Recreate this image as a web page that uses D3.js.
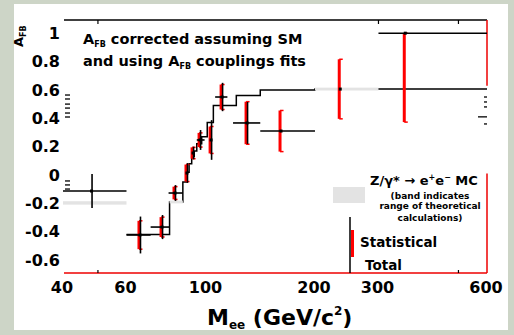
<!DOCTYPE html>
<html>
<head>
<meta charset="utf-8">
<script src="https://cdn.jsdelivr.net/npm/d3@7"></script>
<style>
  html, body { margin: 0; padding: 0; background: #cdd5c7; }
  svg { display: block; }
  text { font-family: 'DejaVu Sans', sans-serif; font-weight: bold; fill: #000; }
</style>
</head>
<body>
<svg id="chart" width="514" height="335"></svg>
<script>
// measured A_FB points (mass bins in GeV/c^2)
const binLo   = [40, 60, 70, 78.5, null, null, 94, null, 105.7, 118.5, 141, null, 300];
const binHi   = [60, 70, 79, 86, null, null, 98.8, null, 114.3, 141, 200, null, 600];
const massPt  = [48, 65.4, 75.3, 81.8, 88.3, 91.8, 96, 103, 110.5, 129.6, 161, 235, 356];
const afb     = [-0.113, -0.423, -0.367, -0.127, 0.014, 0.155, 0.247, 0.247, 0.55, 0.367, 0.31, 0.606, 1.0];
const errTot  = [0.12, 0.13, 0.085, 0.056, 0.07, 0.045, 0.07, 0.14, 0.1, 0.148, null, null, null];
const errStatDn = [null, 0.10, 0.07, 0.045, 0.06, 0.04, 0.05, 0.095, 0.088, 0.15, 0.145, 0.21, 0.627];
const errStatUp = [null, 0.10, 0.07, 0.045, 0.06, 0.04, 0.05, 0.095, 0.088, 0.15, 0.145, 0.21, 0];

// Z/gamma* -> ee MC histogram
const mcEdges = [60, 70, 79, 86, 88, 89.5, 91, 92.5, 94, 97, 100.5, 104.5, 121, 141, 200, 300, 600];
const mcVals  = [-0.42, -0.42, -0.19, -0.05, 0.02, 0.08, 0.13, 0.17, 0.22, 0.27, 0.37, 0.49, 0.56, 0.60, 0.606, 0.606];

// theory band
const bandLo   = [40, 79, 200];
const bandHi   = [60, 86, 300];
const bandVal  = [-0.197, -0.19, 0.606];
const bandHalf = [0.012, 0.01, 0.01];

// small marks along the sides
const leftMarks  = [0.564, 0.536, 0.5, 0.472, 0.437, 0.409, -0.042, -0.07, -0.099];
const rightMarks = [0.55, 0.515, 0.48, 0.41, 0.36];

const yTicks = [1, 0.8, 0.6, 0.4, 0.2, 0, -0.2, -0.4, -0.6];
const yTickLabels = ['1', '0.8', '0.6', '0.4', '0.2', '0', '-0.2', '-0.4', '-0.6'];
const xTicks = [40, 60, 100, 200, 300, 600];
const xMinorTop = [50, 300, 500];
const xMinorBottom = [50, 500];

const svg = d3.select('#chart');
svg.append('rect').attr('x', 14).attr('y', 4).attr('width', 494).attr('height', 326).attr('fill', '#fff');

const x = d3.scaleLog().domain([40, 600]).range([63, 487]);
const y = d3.scaleLinear().domain([-0.691, 1.093]).range([273, 20]);

// frame
svg.append('line').attr('x1', 64).attr('x2', 487).attr('y1', 20).attr('y2', 20)
  .attr('stroke', '#000').attr('stroke-width', 1.5);
svg.append('line').attr('x1', 64).attr('x2', 487).attr('y1', 273).attr('y2', 273)
  .attr('stroke', '#e00').attr('stroke-width', 1.5);
[[1.093, 0.63], [0.01, -0.691]].forEach(s => {
  svg.append('line').attr('x1', 487).attr('x2', 487).attr('y1', y(s[0])).attr('y2', y(s[1]))
    .attr('stroke', '#e00').attr('stroke-width', 1.5);
});
svg.selectAll('.tt').data(xMinorTop).join('line')
  .attr('x1', d => x(d)).attr('x2', d => x(d)).attr('y1', 20).attr('y2', 24)
  .attr('stroke', '#000').attr('stroke-width', 1.2);
svg.selectAll('.tb').data(xMinorBottom).join('line')
  .attr('x1', d => x(d)).attr('x2', d => x(d)).attr('y1', 273).attr('y2', 270)
  .attr('stroke', '#000').attr('stroke-width', 1.2);
svg.selectAll('.lm').data(leftMarks).join('line')
  .attr('x1', 65).attr('x2', 70).attr('y1', d => y(d)).attr('y2', d => y(d))
  .attr('stroke', '#000').attr('stroke-width', 1.3);
svg.selectAll('.rm').data(rightMarks).join('line')
  .attr('x1', (d, i) => i === 3 ? 478 : 484).attr('x2', 487).attr('y1', d => y(d)).attr('y2', d => y(d))
  .attr('stroke', '#000').attr('stroke-width', 1.3);

// tick labels
svg.selectAll('.yl').data(yTicks).join('text')
  .attr('x', 60).attr('y', d => y(d)).attr('dy', '0.36em')
  .attr('text-anchor', 'end').attr('font-size', 16)
  .text((d, i) => yTickLabels[i]);
svg.selectAll('.xl').data(xTicks).join('text')
  .attr('x', d => x(d) - 1).attr('y', 293)
  .attr('text-anchor', 'middle').attr('font-size', 16)
  .text(d => d);

// MC step line
const steps = [];
mcVals.forEach((v, i) => { steps.push([mcEdges[i], v], [mcEdges[i + 1], v]); });
svg.append('path')
  .attr('d', d3.line().x(d => x(d[0])).y(d => y(d[1]))(steps))
  .attr('fill', 'none').attr('stroke', '#000').attr('stroke-width', 1.5);

// theory band
svg.selectAll('.band').data(bandVal).join('rect')
  .attr('x', (d, i) => x(bandLo[i])).attr('width', (d, i) => x(bandHi[i]) - x(bandLo[i]))
  .attr('y', (d, i) => y(d + bandHalf[i])).attr('height', (d, i) => y(d - bandHalf[i]) - y(d + bandHalf[i]))
  .attr('fill', '#e3e3e3');

// data points
const pts = svg.append('g');
afb.forEach((a, i) => {
  const cx = x(massPt[i]);
  if (errStatDn[i] != null) {
    const y1 = y(a + errStatUp[i]), y2 = y(a - errStatDn[i]);
    pts.append('line').attr('x1', cx - 1).attr('x2', cx - 1).attr('y1', y1).attr('y2', y2)
      .attr('stroke', '#f00').attr('stroke-width', 3);
    [y1, y2].forEach(yy => pts.append('line').attr('x1', cx - 1).attr('x2', cx + 2.5)
      .attr('y1', yy).attr('y2', yy).attr('stroke', '#f00').attr('stroke-width', 1.5));
  }
  if (errTot[i] != null) {
    pts.append('line').attr('x1', cx + 0.5).attr('x2', cx + 0.5)
      .attr('y1', y(a + errTot[i])).attr('y2', y(a - errTot[i]))
      .attr('stroke', '#000').attr('stroke-width', 1.6);
  }
  if (binLo[i] != null) {
    pts.append('line').attr('x1', x(binLo[i])).attr('x2', x(binHi[i]))
      .attr('y1', y(a)).attr('y2', y(a)).attr('stroke', '#000').attr('stroke-width', 1.6);
  }
  pts.append('rect').attr('x', cx - 1.5).attr('y', y(a) - 1.5).attr('width', 3).attr('height', 3).attr('fill', '#000');
});

// titles
const t1 = svg.append('text').attr('x', 83).attr('y', 44).attr('font-size', 14.5);
t1.append('tspan').text('A');
t1.append('tspan').attr('font-size', 8).attr('dy', 3).text('FB');
t1.append('tspan').attr('dy', -3).text(' corrected assuming SM');
const t2 = svg.append('text').attr('x', 83).attr('y', 66).attr('font-size', 14.5);
t2.append('tspan').text('and using A');
t2.append('tspan').attr('font-size', 8).attr('dy', 3).text('FB');
t2.append('tspan').attr('dy', -3).text(' couplings fits');

const yt = svg.append('text').attr('transform', 'translate(23,47) rotate(-90)').attr('font-size', 13);
yt.append('tspan').text('A');
yt.append('tspan').attr('font-size', 8).attr('dy', 3).text('FB');

const xt = svg.append('text').attr('x', 207).attr('y', 325).attr('font-size', 22);
xt.append('tspan').text('M');
xt.append('tspan').attr('font-size', 12).attr('dy', 4).text('ee');
xt.append('tspan').attr('dy', -4).text(' (GeV/c');
xt.append('tspan').attr('font-size', 12).attr('dy', -10).text('2');
xt.append('tspan').attr('dy', 10).text(')');

// legend
svg.append('rect').attr('x', 333).attr('y', 187).attr('width', 32).attr('height', 16).attr('fill', '#e3e3e3');
const lg = svg.append('text').attr('x', 370).attr('y', 185).attr('font-size', 13);
lg.append('tspan').text('Z/γ*  → e');
lg.append('tspan').attr('font-size', 8).attr('dy', -5).text('+');
lg.append('tspan').attr('dy', 5).text('e');
lg.append('tspan').attr('font-size', 8).attr('dy', -5).text('−');
lg.append('tspan').attr('dy', 5).text(' MC');
[['(band indicates', 199], ['range of theoretical', 209], ['calculations)', 221]].forEach(l => {
  svg.append('text').attr('x', 430).attr('y', l[1]).attr('text-anchor', 'middle')
    .attr('font-size', 9).text(l[0]);
});
svg.append('line').attr('x1', 350).attr('x2', 350).attr('y1', 217).attr('y2', 273)
  .attr('stroke', '#000').attr('stroke-width', 1.5);
svg.append('line').attr('x1', 352.5).attr('x2', 352.5).attr('y1', 230).attr('y2', 257)
  .attr('stroke', '#f00').attr('stroke-width', 3);
svg.append('text').attr('x', 360).attr('y', 247).attr('font-size', 13.5).text('Statistical');
svg.append('text').attr('x', 365).attr('y', 270).attr('font-size', 13.5).text('Total');
</script>
</body>
</html>
